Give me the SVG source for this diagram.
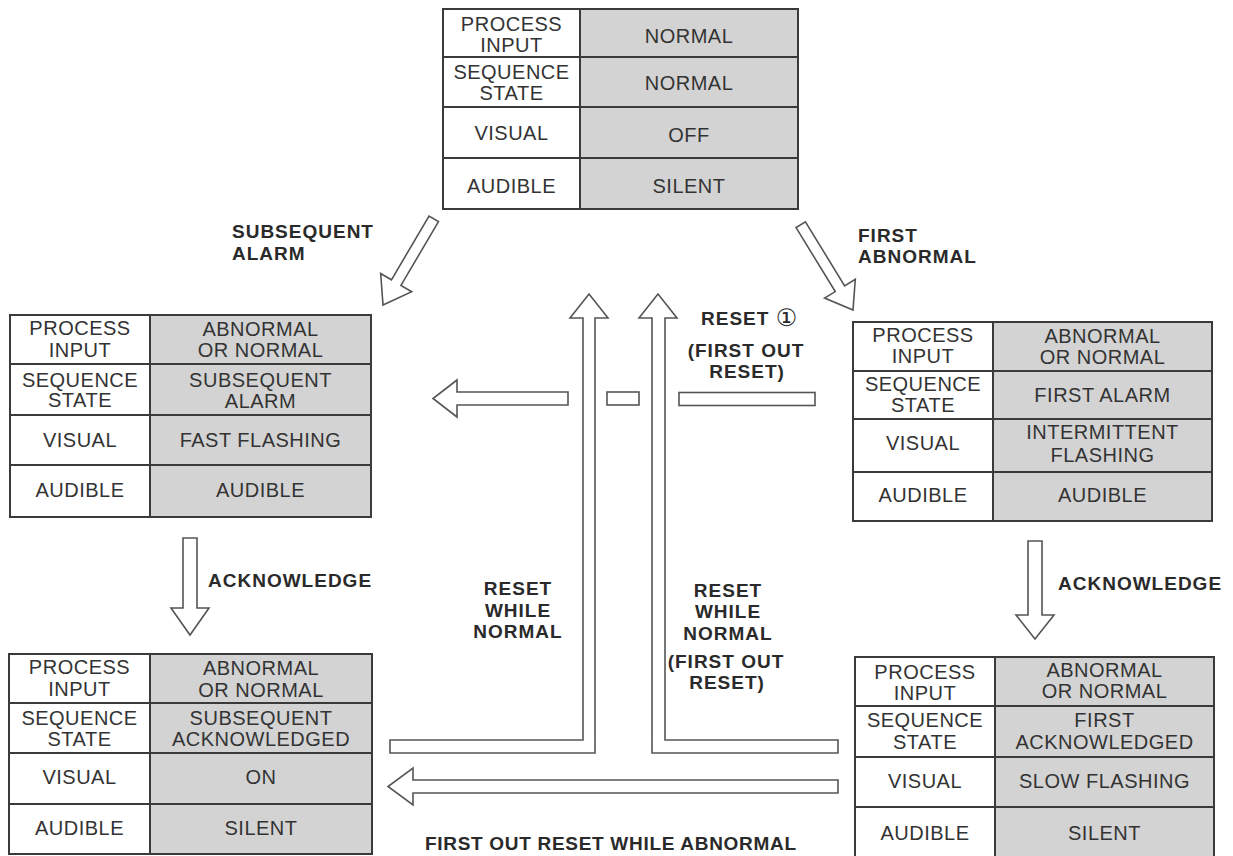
<svg xmlns="http://www.w3.org/2000/svg" width="1233" height="856" viewBox="0 0 1233 856">
<style>
.bg{fill:#fff}
.cl{fill:#fff}
.cr{fill:#d3d3d3}
.grid{fill:none;stroke:#3a3a3a;stroke-width:2}
.t{font-family:"Liberation Sans",Arial,sans-serif;font-size:20px;fill:#333;text-anchor:middle;letter-spacing:0.5px}
.lbl{font-family:"Liberation Sans",Arial,sans-serif;font-size:19px;font-weight:bold;fill:#2a2a2a;letter-spacing:1px}
.mid{text-anchor:middle}
.circ{font-family:"DejaVu Sans","Noto Sans CJK SC",sans-serif;font-weight:normal;font-size:24px}
.arr{fill:#fff;stroke:#555;stroke-width:1.6;stroke-linejoin:miter}
</style>
<rect class="bg" x="0" y="0" width="1233" height="856"/>

<g id="node-normal">
<rect class="cl" x="443" y="9" width="137" height="200"/>
<rect class="cr" x="580" y="9" width="218" height="200"/>
<path class="grid" d="M443,9H798V209H443Z M580,9V209 M443,57H798 M443,107H798 M443,158H798"/>
<text class="t" x="511.5" y="31">PROCESS</text><text class="t" x="511.5" y="52">INPUT</text>
<text class="t" x="689" y="43">NORMAL</text>
<text class="t" x="511.5" y="79">SEQUENCE</text><text class="t" x="511.5" y="100">STATE</text>
<text class="t" x="689" y="90">NORMAL</text>
<text class="t" x="511.5" y="140">VISUAL</text>
<text class="t" x="689" y="142">OFF</text>
<text class="t" x="511.5" y="193">AUDIBLE</text>
<text class="t" x="689" y="193">SILENT</text>
</g>

<g id="node-subsequent-alarm">
<rect class="cl" x="10" y="315" width="140" height="202"/>
<rect class="cr" x="150" y="315" width="221" height="202"/>
<path class="grid" d="M10,315H371V517H10Z M150,315V517 M10,364H371 M10,415H371 M10,465H371"/>
<text class="t" x="80" y="335">PROCESS</text><text class="t" x="80" y="357">INPUT</text>
<text class="t" x="260.5" y="336">ABNORMAL</text><text class="t" x="260.5" y="357">OR NORMAL</text>
<text class="t" x="80" y="387">SEQUENCE</text><text class="t" x="80" y="407">STATE</text>
<text class="t" x="260.5" y="387">SUBSEQUENT</text><text class="t" x="260.5" y="408">ALARM</text>
<text class="t" x="80" y="447">VISUAL</text>
<text class="t" x="260.5" y="447">FAST FLASHING</text>
<text class="t" x="80" y="497">AUDIBLE</text>
<text class="t" x="260.5" y="497">AUDIBLE</text>
</g>

<g id="node-first-alarm">
<rect class="cl" x="853" y="322" width="140" height="199"/>
<rect class="cr" x="993" y="322" width="219" height="199"/>
<path class="grid" d="M853,322H1212V521H853Z M993,322V521 M853,371H1212 M853,419H1212 M853,472H1212"/>
<text class="t" x="923" y="342">PROCESS</text><text class="t" x="923" y="363">INPUT</text>
<text class="t" x="1102.5" y="343">ABNORMAL</text><text class="t" x="1102.5" y="364">OR NORMAL</text>
<text class="t" x="923" y="391">SEQUENCE</text><text class="t" x="923" y="412">STATE</text>
<text class="t" x="1102.5" y="402">FIRST ALARM</text>
<text class="t" x="923" y="450">VISUAL</text>
<text class="t" x="1102.5" y="439">INTERMITTENT</text><text class="t" x="1102.5" y="462">FLASHING</text>
<text class="t" x="923" y="502">AUDIBLE</text>
<text class="t" x="1102.5" y="502">AUDIBLE</text>
</g>

<g id="node-subsequent-ack">
<rect class="cl" x="9" y="654" width="141" height="200"/>
<rect class="cr" x="150" y="654" width="222" height="200"/>
<path class="grid" d="M9,654H372V854H9Z M150,654V854 M9,703H372 M9,753H372 M9,804H372"/>
<text class="t" x="79.5" y="674">PROCESS</text><text class="t" x="79.5" y="696">INPUT</text>
<text class="t" x="261" y="675">ABNORMAL</text><text class="t" x="261" y="697">OR NORMAL</text>
<text class="t" x="79.5" y="725">SEQUENCE</text><text class="t" x="79.5" y="746">STATE</text>
<text class="t" x="261" y="725">SUBSEQUENT</text><text class="t" x="261" y="746">ACKNOWLEDGED</text>
<text class="t" x="79.5" y="784">VISUAL</text>
<text class="t" x="261" y="784">ON</text>
<text class="t" x="79.5" y="835">AUDIBLE</text>
<text class="t" x="261" y="835">SILENT</text>
</g>

<g id="node-first-ack">
<rect class="cl" x="855" y="657" width="140" height="201"/>
<rect class="cr" x="995" y="657" width="219" height="201"/>
<path class="grid" d="M855,657H1214V858H855Z M995,657V858 M855,706H1214 M855,757H1214 M855,807H1214"/>
<text class="t" x="925" y="679">PROCESS</text><text class="t" x="925" y="700">INPUT</text>
<text class="t" x="1104.5" y="677">ABNORMAL</text><text class="t" x="1104.5" y="698">OR NORMAL</text>
<text class="t" x="925" y="727">SEQUENCE</text><text class="t" x="925" y="749">STATE</text>
<text class="t" x="1104.5" y="727">FIRST</text><text class="t" x="1104.5" y="749">ACKNOWLEDGED</text>
<text class="t" x="925" y="788">VISUAL</text>
<text class="t" x="1104.5" y="788">SLOW FLASHING</text>
<text class="t" x="925" y="840">AUDIBLE</text>
<text class="t" x="1104.5" y="840">SILENT</text>
</g>

<g id="connectors">
<polygon class="arr" transform="translate(383,305) rotate(120.5)" points="-100,-5.5 -26,-5.5 -26,-18 0,0 -26,18 -26,5.5 -100,5.5"/>
<polygon class="arr" transform="translate(853,310) rotate(58.5)" points="-100,-5.5 -25,-5.5 -25,-18 0,0 -25,18 -25,5.5 -100,5.5"/>
<polygon class="arr" points="568,392 457,392 457,380 433,398.5 457,417 457,405 568,405"/>
<rect class="arr" x="607" y="392" width="32" height="13"/>
<rect class="arr" x="679" y="392.5" width="136" height="13"/>
<path class="arr" d="M390,740 L583,740 L583,318 L570,318 L589,294 L608,318 L595,318 L595,753 L390,753 Z"/>
<path class="arr" d="M652,753 L652,318 L639,318 L658,294 L677,318 L665,318 L665,740 L838,740 L838,753 Z"/>
<path class="arr" d="M838,780 L413,780 L413,768 L388,786.5 L413,805 L413,793 L838,793 Z"/>
<path class="arr" d="M183,538 L197,538 L197,608 L209,608 L190,635 L171,608 L183,608 Z"/>
<path class="arr" d="M1028,541 L1042,541 L1042,615 L1054,615 L1035,639 L1016,615 L1028,615 Z"/>

<text class="lbl" x="232" y="238">SUBSEQUENT</text>
<text class="lbl" x="232" y="260">ALARM</text>
<text class="lbl" x="858" y="242">FIRST</text>
<text class="lbl" x="858" y="263">ABNORMAL</text>
<text class="lbl" x="701" y="325">RESET <tspan class="circ" dy="1">①</tspan></text>
<text class="lbl mid" x="746" y="357">(FIRST OUT</text>
<text class="lbl mid" x="747" y="378">RESET)</text>
<text class="lbl mid" x="518" y="595">RESET</text>
<text class="lbl mid" x="518" y="617">WHILE</text>
<text class="lbl mid" x="518" y="638">NORMAL</text>
<text class="lbl mid" x="728" y="597">RESET</text>
<text class="lbl mid" x="728" y="618">WHILE</text>
<text class="lbl mid" x="728" y="640">NORMAL</text>
<text class="lbl mid" x="726" y="668">(FIRST OUT</text>
<text class="lbl mid" x="727" y="689">RESET)</text>
<text class="lbl" x="208" y="587">ACKNOWLEDGE</text>
<text class="lbl" x="1058" y="590">ACKNOWLEDGE</text>
<text class="lbl" x="425" y="850" style="letter-spacing:0.7px">FIRST OUT RESET WHILE ABNORMAL</text>
</g>
</svg>
